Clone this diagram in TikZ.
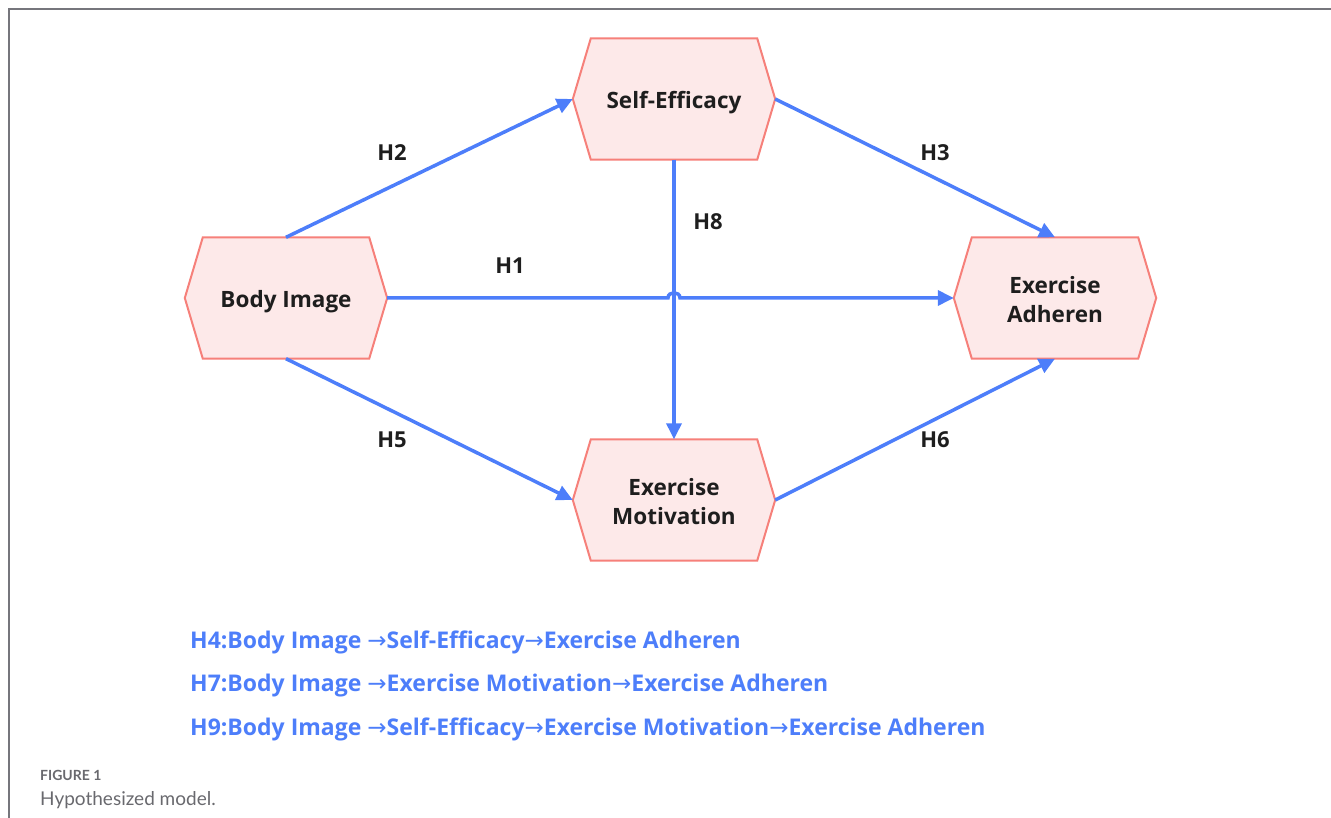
\documentclass[tikz,border=0pt]{standalone}
\usepackage{fontspec}
\setmainfont{Open Sans}
\newfontfamily\arrowfont{DejaVu Sans}
\newfontfamily\capfont{Lato}
\usetikzlibrary{arrows.meta,backgrounds,calc}
\definecolor{lineblue}{RGB}{77,126,250}
\definecolor{hexfill}{RGB}{253,233,233}
\definecolor{hexdraw}{RGB}{246,128,122}
\definecolor{framegray}{RGB}{118,118,124}
\definecolor{textdark}{RGB}{30,30,30}
\definecolor{capgray}{RGB}{105,105,110}
\newcommand\hexlbl[1]{\raisebox{-4pt}[\height][\depth]{\begin{tabular}{@{}c@{}}#1\end{tabular}}}
\begin{document}
\begin{tikzpicture}[x=1pt,y=-1pt,
  hexnode/.style={minimum width=202pt,minimum height=121pt,inner sep=0pt,
    font=\bfseries\fontsize{22.5}{29}\selectfont,text=textdark},
  hexline/.style={draw=hexdraw,fill=hexfill,line width=2pt,line join=miter},
  conn/.style={line width=3.5pt,draw=lineblue,-{Triangle[length=16pt,width=15pt]}},
  hlabel/.style={font=\bfseries\fontsize{22}{24}\selectfont,text=textdark,inner sep=0pt},
  legend/.style={font=\bfseries\fontsize{23}{26}\selectfont,text=lineblue,anchor=west,inner sep=0pt},
  frame/.style={draw=framegray,line width=2pt}]
\useasboundingbox (0,0) rectangle (1331,818);
\draw[frame] (9,818) -- (9,9) -- (1331,9);

\node[hexnode] (bi) at (286,298) {\hexlbl{Body Image}};
\node[hexnode] (se) at (674,99) {\hexlbl{Self-Efficacy}};
\node[hexnode] (em) at (674,500) {\hexlbl{Exercise\\Motivation}};
\node[hexnode] (ea) at (1055,298) {\hexlbl{Exercise\\Adheren}};

\begin{pgfonlayer}{background}
\foreach \n in {bi,se,em,ea}{
  \draw[hexline] (\n.west) -- ($(\n.north west)+(18,0)$) -- ($(\n.north east)+(-18,0)$)
    -- (\n.east) -- ($(\n.south east)+(-18,0)$) -- ($(\n.south west)+(18,0)$) -- cycle;
}
\end{pgfonlayer}

\coordinate (hopA) at (668,298);
\coordinate (hopB) at (680,298);

\draw[conn] (bi.north) -- (se.west);
\draw[conn] (se.east) -- (ea.north);
\draw[conn] (bi.east) -- (hopA) .. controls ($(hopA)+(0,-7)$) and ($(hopB)+(0,-7)$) .. (hopB) -- (ea.west);
\draw[conn] (se.south) -- (em.north);
\draw[conn] (bi.south) -- (em.west);
\draw[conn] (em.east) -- (ea.south);

\node[hlabel] (h2) at (392,153) {H2};
\node[hlabel] (h3) at (935,153) {H3};
\node[hlabel] (h8) at (708,222) {H8};
\node[hlabel] (h1) at (510,266) {H1};
\node[hlabel] (h5) at (392,440) {H5};
\node[hlabel] (h6) at (935,440) {H6};

\node[legend] (l4) at (190,642) {H4:Body Image {\arrowfont\mdseries →}Self-Efficacy{\arrowfont\mdseries →}Exercise Adheren};
\node[legend] (l7) at (190,686) {H7:Body Image {\arrowfont\mdseries →}Exercise Motivation{\arrowfont\mdseries →}Exercise Adheren};
\node[legend] (l9) at (190,729) {H9:Body Image {\arrowfont\mdseries →}Self-Efficacy{\arrowfont\mdseries →}Exercise Motivation{\arrowfont\mdseries →}Exercise Adheren};

\node[anchor=west,inner sep=0pt,text=capgray,font=\capfont\bfseries\fontsize{14}{16}\selectfont] (cap1) at (40,775) {FIGURE 1};
\node[anchor=west,inner sep=0pt,text=capgray,font=\capfont\fontsize{19}{22}\selectfont] (cap2) at (40,800) {Hypothesized model.};
\end{tikzpicture}
\end{document}
